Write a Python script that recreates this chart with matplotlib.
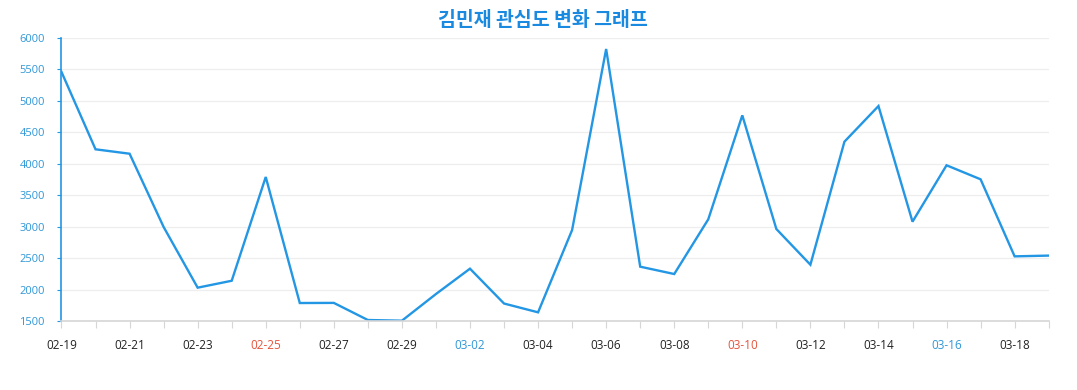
import matplotlib
matplotlib.use("Agg")
import matplotlib.pyplot as plt

plt.rcParams['font.family'] = ['Open Sans', 'Noto Sans CJK KR', 'DejaVu Sans']

dates = ["02-19", "02-20", "02-21", "02-22", "02-23", "02-24", "02-25", "02-26",
         "02-27", "02-28", "02-29", "03-01", "03-02", "03-03", "03-04", "03-05",
         "03-06", "03-07", "03-08", "03-09", "03-10", "03-11", "03-12", "03-13",
         "03-14", "03-15", "03-16", "03-17", "03-18", "03-19"]
values = [5460, 4230, 4160, 2995, 2030, 2140, 3790, 1786, 1788, 1516, 1505, 1929,
          2332, 1778, 1638, 2947, 5825, 2364, 2247, 3117, 4770, 2963, 2395, 4351,
          4918, 3079, 3976, 3753, 2528, 2540]
sundays = ["02-25", "03-10"]
saturdays = ["03-02", "03-16"]
yticks = [1500, 2000, 2500, 3000, 3500, 4000, 4500, 5000, 5500, 6000]

BLUE = "#2396e4"
RED = "#e5533c"
TICKBLUE = "#2f97d8"

fig = plt.figure(figsize=(10.77, 3.9), dpi=100)
ax = fig.add_axes([0.0571, 0.1769, 0.9166, 0.7257])

x = list(range(len(dates)))
ax.plot(x, values, color=BLUE, lw=1.7, solid_joinstyle="miter")

ax.set_xlim(0, len(dates) - 1)
ax.set_ylim(1500, 6000)
ax.set_yticks(yticks)
ax.set_yticklabels([str(v) for v in yticks], color=TICKBLUE, fontsize=8)
ax.tick_params(axis="y", length=3, color=BLUE, pad=9)

ax.set_xticks(x)
ax.set_xticklabels([d if i % 2 == 0 else "" for i, d in enumerate(dates)], fontsize=8.5)
ax.tick_params(axis="x", length=5, color="#d6d6d6", pad=8)
for lbl, d in zip(ax.get_xticklabels(), dates):
    if d in sundays:
        lbl.set_color(RED)
    elif d in saturdays:
        lbl.set_color(TICKBLUE)
    else:
        lbl.set_color("#222222")

ax.grid(axis="y", color="#eeeeee", lw=0.9)
ax.set_axisbelow(True)
for s in ("top", "right"):
    ax.spines[s].set_visible(False)
ax.spines["left"].set_color(BLUE)
ax.spines["left"].set_linewidth(1.2)
ax.spines["bottom"].set_color("#d6d6d6")
ax.spines["bottom"].set_linewidth(1.2)

fig.text(0.504, 0.948, "김민재 관심도 변화 그래프", ha="center", va="center",
         fontsize=14, fontweight="bold", color="#1a8ae0",
         family=['Noto Sans CJK KR', 'DejaVu Sans'])

fig.savefig("out.png", dpi=100)
